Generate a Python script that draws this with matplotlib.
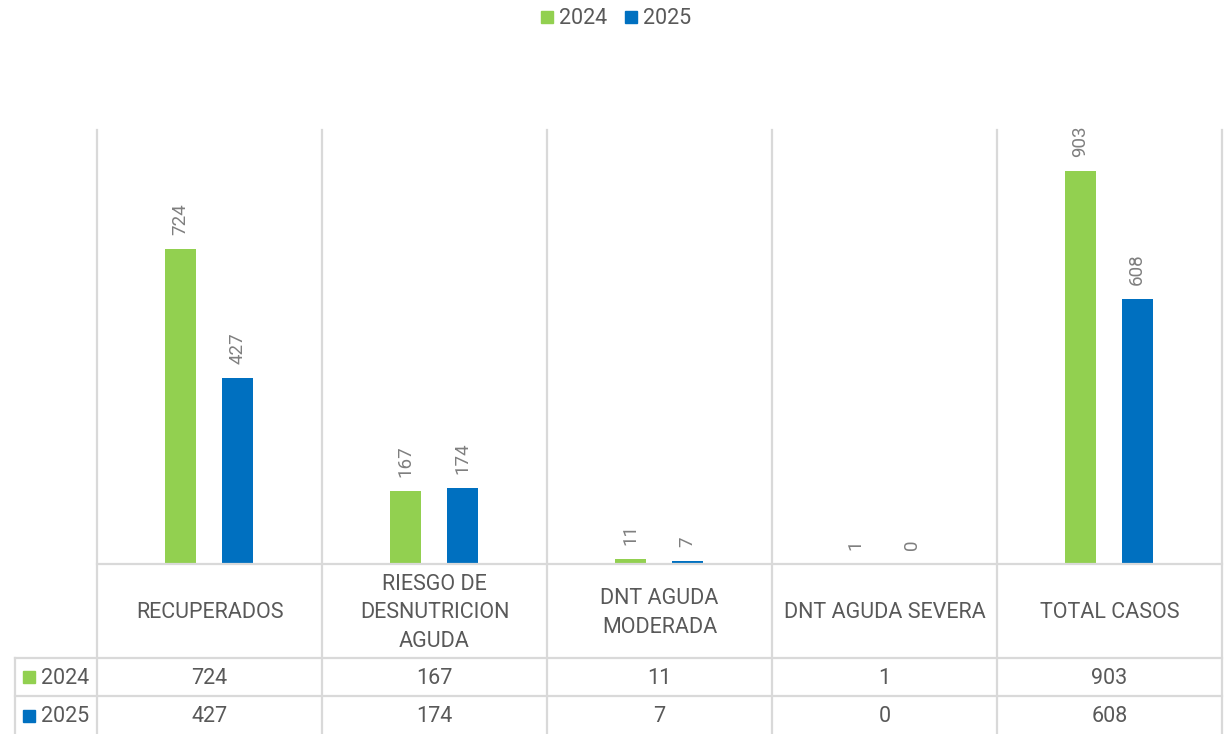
import matplotlib.pyplot as plt
from matplotlib.patches import Rectangle

categories = ["RECUPERADOS", "RIESGO DE\nDESNUTRICION\nAGUDA", "DNT AGUDA\nMODERADA",
              "DNT AGUDA SEVERA", "TOTAL CASOS"]
years = ["2024", "2025"]
values_2024 = [724, 167, 11, 1, 903]
values_2025 = [427, 174, 7, 0, 608]
colors = ["#92D050", "#0070C0"]

grid_c = "#d9d9d9"
text_c = "#595959"
label_c = "#7f7f7f"

plt.rcParams["font.family"] = ["Roboto", "DejaVu Sans"]

W, H = 1227, 734
fig = plt.figure(figsize=(W / 100, H / 100), dpi=100)

# pixel layout
x0, x1 = 97, 1222
y_top, y_base = 130, 564
lab_x = 15
n = len(categories)
cw = (x1 - x0) / n

ax = fig.add_axes([x0 / W, (H - y_base) / H, (x1 - x0) / W, (y_base - y_top) / H])
ax.set_xlim(0, n)
ax.set_ylim(0, 997)
ax.axis("off")

bw = 31 / cw
off = 28.5 / cw
for i, (series, col) in enumerate(zip([values_2024, values_2025], colors)):
    xs = [k + 0.5 + (off if i else -off) - 0.8 / cw for k in range(n)]
    ax.bar(xs, series, width=bw, color=col, zorder=3)
    for x, v in zip(xs, series):
        ax.annotate(str(v), (x, v), xytext=(0, 10), textcoords="offset points",
                    rotation=90, ha="center", va="bottom", fontsize=13.5, color=label_c)

# table / grid axes covering the whole lower part in pixel coordinates
tx = fig.add_axes([0, 0, 1, 1])
tx.set_xlim(0, W)
tx.set_ylim(H, 0)
tx.axis("off")
tx.patch.set_alpha(0)

lw = 1.6
for k in range(n + 1):
    xv = x0 + k * cw
    tx.plot([xv, xv], [y_top, H], color=grid_c, lw=lw, zorder=1)
tx.plot([lab_x, lab_x], [658, H], color=grid_c, lw=lw)
tx.plot([x0, x1], [y_base, y_base], color=grid_c, lw=lw)
for yv in [658, 696]:
    tx.plot([lab_x, x1], [yv, yv], color=grid_c, lw=lw)

fs = 15.5
for k, name in enumerate(categories):
    cx = x0 + (k + 0.5) * cw
    tx.text(cx, 613, name, ha="center", va="center", fontsize=fs, color=text_c,
            linespacing=1.48)
    for yc, series in zip([678, 716], [values_2024, values_2025]):
        tx.text(cx, yc, str(series[k]), ha="center", va="center", fontsize=fs, color=text_c)

for yc, yr, col in zip([677, 716], years, colors):
    tx.add_patch(Rectangle((23, yc - 6), 12, 12, color=col))
    tx.text(41, yc + 1, yr, ha="left", va="center", fontsize=fs, color=text_c)

# legend
for lx, yr, col in zip([541, 625], years, colors):
    tx.add_patch(Rectangle((lx, 11), 12, 12, color=col))
    tx.text(lx + 18, 18, yr, ha="left", va="center", fontsize=fs, color=text_c)

fig.savefig("out.png", dpi=100)
